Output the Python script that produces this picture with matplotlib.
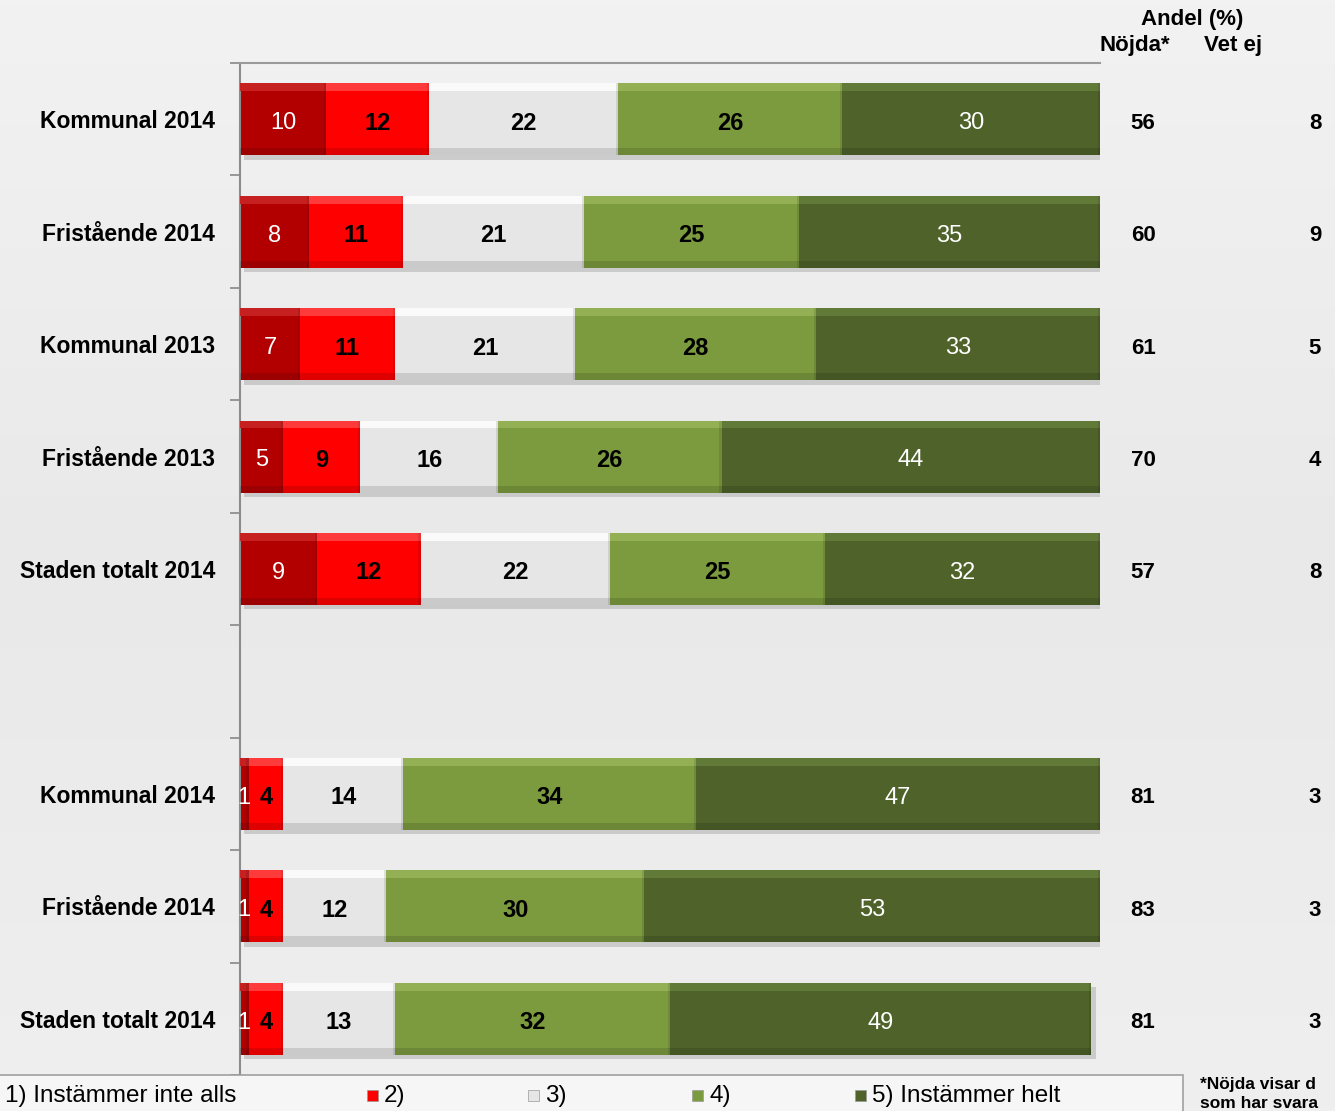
import matplotlib
matplotlib.use("Agg")
import matplotlib.pyplot as plt
from matplotlib.patches import Rectangle
import numpy as np

plt.rcParams['font.family'] = ['Liberation Sans', 'DejaVu Sans']

categories = ["Kommunal 2014", "Fristående 2014", "Kommunal 2013", "Fristående 2013",
              "Staden totalt 2014", "", "Kommunal 2014", "Fristående 2014", "Staden totalt 2014"]
s1 = [10, 8, 7, 5, 9, None, 1, 1, 1]
s2 = [12, 11, 11, 9, 12, None, 4, 4, 4]
s3 = [22, 21, 21, 16, 22, None, 14, 12, 13]
s4 = [26, 25, 28, 26, 25, None, 34, 30, 32]
s5 = [30, 35, 33, 44, 32, None, 47, 53, 49]
nojda = [56, 60, 61, 70, 57, None, 81, 83, 81]
vetej = [8, 9, 5, 4, 8, None, 3, 3, 3]
legend_labels = ["1) Instämmer inte alls", "2)", "3)", "4)", "5) Instämmer helt"]

colors = ["#b20000", "#fe0000", "#e6e6e6", "#7c9b3f", "#4e6229"]
hilite = ["#c62020", "#ff3a3a", "#fafafa", "#93b054", "#627a37"]
text_colors = ["white", "black", "black", "black", "white"]
text_weights = ["normal", "bold", "bold", "bold", "normal"]

W, H = 1335, 1111
fig = plt.figure(figsize=(W / 100, H / 100), dpi=100, facecolor="#ececec")
grad = np.linspace(0, 1, 256).reshape(-1, 1)
bg = fig.add_axes([0, 0, 1, 1], zorder=-10)
bg.imshow(grad, aspect="auto", cmap=matplotlib.colors.LinearSegmentedColormap.from_list(
    "bg", ["#f2f2f2", "#e9e9e9", "#efefef"]), extent=[0, 1, 0, 1])
bg.axis("off")

ax = fig.add_axes([240 / W, 1 - 1075 / H, 860 / W, (1075 - 63) / H])
ax.set_facecolor("none")

series = [s1, s2, s3, s4, s5]
ypos = np.arange(len(categories))
h = 0.64
rows = [i for i in ypos if s1[i] is not None]
for i in rows:
    left = 0
    total = sum(s[i] for s in series)
    ax.barh(i + 0.04, total, left=0.5, height=h, color="#b5b5b5", alpha=0.6, zorder=1, linewidth=0)
    for k, s in enumerate(series):
        v = s[i]
        ax.barh(i, v, left=left, height=h, color=colors[k], zorder=2, linewidth=0)
        ax.barh(i - h / 2 + 0.035, v, left=left, height=0.07, color=hilite[k], zorder=3, linewidth=0)
        ax.barh(i + h / 2 - 0.03, v, left=left, height=0.06, color="black", alpha=0.12, zorder=3, linewidth=0)
        ax.barh(i, 0.25, left=left + v - 0.25, height=h, color="black", alpha=0.10, zorder=3, linewidth=0)
        ax.text(left + v / 2, i + 0.035, str(v), ha="center", va="center", fontsize=17,
                color=text_colors[k], fontweight=text_weights[k], zorder=4)
        left += v
    ax.text(105, i + 0.035, str(nojda[i]), ha="center", va="center", fontsize=16,
            fontweight="bold", color="black", clip_on=False)
    ax.text(125, i + 0.035, str(vetej[i]), ha="center", va="center", fontsize=16,
            fontweight="bold", color="black", clip_on=False)

ax.set_xlim(0, 100)
ax.set_ylim(len(categories) - 0.5, -0.5)
ax.set_yticks(ypos)
ax.set_yticklabels(categories, fontsize=16.5, fontweight="bold")
ax.tick_params(axis="y", which="major", length=0, pad=18)
ax.set_yticks(np.arange(-0.5, len(categories) + 0.5, 1), minor=True)
ax.tick_params(axis="y", which="minor", length=7, color="#888888", width=1.2)
ax.set_xticks([])
for sp in ["right", "bottom"]:
    ax.spines[sp].set_visible(False)
ax.spines["left"].set_color("#8c8c8c")
ax.spines["left"].set_linewidth(1.5)
ax.spines["top"].set_color("#9a9a9a")
ax.spines["top"].set_linewidth(1.5)

fig.text(1192 / W, 1 - 20 / H, "Andel (%)", ha="center", va="center", fontsize=16, fontweight="bold")
fig.text(1135 / W, 1 - 46 / H, "Nöjda*", ha="center", va="center", fontsize=16, fontweight="bold")
fig.text(1233 / W, 1 - 46 / H, "Vet ej", ha="center", va="center", fontsize=16, fontweight="bold")

fig.patches.append(Rectangle((-2 / W, -0.01), 1185 / W, (1111 - 1075) / H + 0.01, transform=fig.transFigure,
                             facecolor="#f6f6f6", edgecolor="#a0a0a0", linewidth=1.2, zorder=1))
marker_x = [-20, 367, 528, 692, 855]
for k, lab in enumerate(legend_labels):
    mx = marker_x[k]
    fig.patches.append(Rectangle((mx / W, 1 - 1101 / H), 11 / W, 11 / H, transform=fig.transFigure,
                                 facecolor=colors[k], edgecolor="#999999", linewidth=0.5, zorder=2))
    tx = 5 if k == 0 else mx + 17
    fig.text(tx / W, 1 - 1096 / H, lab, ha="left", va="center", fontsize=17.5, zorder=3)

fig.text(1200 / W, 1 - 1085 / H, "*Nöjda visar d", ha="left", va="center", fontsize=12.5,
         fontweight="bold")
fig.text(1200 / W, 1 - 1103 / H, "som har svara", ha="left", va="center", fontsize=12.5,
         fontweight="bold")

fig.savefig("out.png", dpi=100, facecolor=fig.get_facecolor())
